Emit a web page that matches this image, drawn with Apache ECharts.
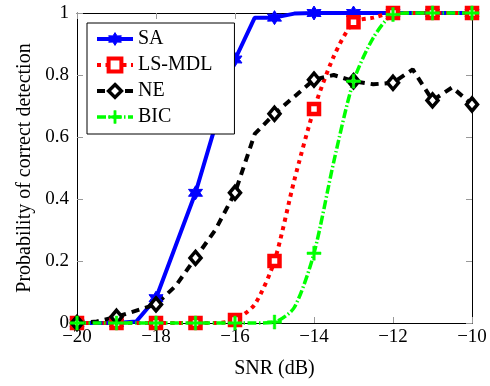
<!DOCTYPE html>
<html>
<head>
<meta charset="utf-8">
<script src="https://cdn.jsdelivr.net/npm/echarts@6/dist/echarts.min.js"></script>
<style>html,body{margin:0;padding:0;background:#fff}#c{width:490px;height:386px}</style>
</head>
<body>
<div id="c"></div>
<script>
const snr = [-20, -19.5, -19, -18.5, -18, -17.5, -17, -16.5, -16, -15.5, -15, -14.5, -14, -13.5, -13, -12.5, -12, -11.5, -11, -10.5, -10];
const markerSnr = [-20, -19, -18, -17, -16, -15, -14, -13, -12, -11, -10];
const saVals    = [0, 0, 0, 0.005, 0.08, 0.25, 0.42, 0.635, 0.85, 0.985, 0.985, 0.998, 1, 1, 1, 1, 1, 1, 1, 1, 1];
const lsmdlVals = [0, 0, 0, 0, 0, 0, 0, 0, 0.01, 0.06, 0.2, 0.46, 0.69, 0.86, 0.97, 0.985, 1, 1, 1, 1, 1];
const neVals    = [0, 0.005, 0.02, 0.04, 0.06, 0.12, 0.21, 0.3, 0.42, 0.61, 0.675, 0.73, 0.785, 0.8, 0.78, 0.77, 0.775, 0.818, 0.718, 0.76, 0.705];
const bicVals   = [0, 0, 0, 0, 0, 0, 0, 0, 0, 0, 0.003, 0.05, 0.225, 0.52, 0.78, 0.92, 0.995, 1, 1, 1, 1];
const seriesNames = ['SA', 'LS-MDL', 'NE', 'BIC'];
const xTicks = [-20, -18, -16, -14, -12, -10];
const yTicks = [0, 0.2, 0.4, 0.6, 0.8, 1];

const FONT = "'Liberation Serif', 'Times New Roman', serif";

function star6() {
  let d = '';
  for (let i = 0; i < 12; i++) {
    const a = Math.PI / 2 + i * Math.PI / 6;
    const r = (i % 2 === 0) ? 1 : 0.55;
    const x = (r * Math.cos(a)).toFixed(3), y = (-r * Math.sin(a)).toFixed(3);
    d += (i === 0 ? 'M' : 'L') + x + ',' + y;
  }
  return 'path://' + d + 'Z';
}
const plusPath = 'path://M-0.18,-1L0.18,-1L0.18,-0.18L1,-0.18L1,0.18L0.18,0.18L0.18,1L-0.18,1L-0.18,0.18L-1,0.18L-1,-0.18L-0.18,-0.18Z';

function makeData(vals) {
  return snr.map((x, i) => {
    const item = { value: [x, vals[i]] };
    if (markerSnr.indexOf(x) < 0) item.symbol = 'none';
    return item;
  });
}

const chart = echarts.init(document.getElementById('c'), null, { renderer: 'canvas' });
const axisCommon = {
  axisLine: { show: true, onZero: false, lineStyle: { color: '#000', width: 1 } },
  axisTick: { show: true, inside: true, length: 6, lineStyle: { color: '#999', width: 1 } },
  splitLine: { show: false }
};
chart.setOption({
  animation: false,
  backgroundColor: '#fff',
  grid: { left: 77, right: 18, top: 13, bottom: 63, containLabel: false },
  legend: {
    orient: 'vertical', left: 87, top: 23,
    data: [
      { name: 'SA', lineStyle: { width: 4 }, itemStyle: { borderWidth: 1 } },
      { name: 'LS-MDL', lineStyle: { width: 4 }, itemStyle: { borderWidth: 4 } },
      { name: 'NE', lineStyle: { width: 4 }, itemStyle: { borderWidth: 3.5 } },
      { name: 'BIC', lineStyle: { width: 3.5 }, itemStyle: { borderWidth: 0.5 } }
    ],
    itemWidth: 36, itemHeight: 16, itemGap: 6,
    padding: [6, 22, 7, 8],
    backgroundColor: '#fff', borderColor: '#000', borderWidth: 1,
    textStyle: { fontFamily: FONT, fontSize: 20, color: '#000', lineHeight: 20 }
  },
  xAxis: [
    Object.assign({}, axisCommon, {
      type: 'value', min: -20, max: -10, interval: 2, position: 'bottom',
      name: 'SNR (dB)', nameLocation: 'middle', nameGap: 36,
      nameTextStyle: { fontFamily: FONT, fontSize: 20, color: '#000' },
      axisLabel: { margin: 5, fontFamily: FONT, fontSize: 19, color: '#000',
        formatter: v => (xTicks.indexOf(v) >= 0 ? String(v).replace('-', '\u2212') : '') }
    }),
    Object.assign({}, axisCommon, {
      type: 'value', min: -20, max: -10, interval: 2, position: 'top',
      axisLabel: { show: false }
    })
  ],
  yAxis: [
    Object.assign({}, axisCommon, {
      type: 'value', min: 0, max: 1, interval: 0.2, position: 'left',
      name: 'Probability of correct detection', nameLocation: 'middle', nameGap: 42,
      nameTextStyle: { fontFamily: FONT, fontSize: 20, color: '#000' },
      axisLabel: { margin: 8, fontFamily: FONT, fontSize: 19, color: '#000',
        formatter: v => { const t = yTicks.find(k => Math.abs(k - v) < 1e-9); return t === undefined ? '' : String(t); } }
    }),
    Object.assign({}, axisCommon, {
      type: 'value', min: 0, max: 1, interval: 0.2, position: 'right',
      axisLabel: { show: false }
    })
  ],
  series: [
    {
      name: 'SA', type: 'line', data: makeData(saVals), clip: false,
      symbol: star6(), symbolSize: 14, showAllSymbol: true,
      lineStyle: { color: '#0000ff', width: 4, type: 'solid' },
      itemStyle: { color: '#0000ff', borderColor: '#0000ff', borderWidth: 1 }
    },
    {
      name: 'LS-MDL', type: 'line', data: makeData(lsmdlVals), clip: false, smooth: 0.25,
      symbol: 'rect', symbolSize: 10, showAllSymbol: true,
      lineStyle: { color: '#ff0000', width: 4, type: [4, 4.5] },
      itemStyle: { color: '#fff', borderColor: '#ff0000', borderWidth: 4.5 }
    },
    {
      name: 'NE', type: 'line', data: makeData(neVals), clip: false,
      symbol: 'diamond', symbolSize: [11, 13], showAllSymbol: true,
      lineStyle: { color: '#000', width: 4, type: [8, 6] },
      itemStyle: { color: '#fff', borderColor: '#000', borderWidth: 3.5 }
    },
    {
      name: 'BIC', type: 'line', data: makeData(bicVals), clip: false, smooth: 0.25,
      symbol: plusPath, symbolSize: 14, showAllSymbol: true,
      lineStyle: { color: '#00ff00', width: 3.5, type: [9, 2.5, 1.5, 2.5] },
      itemStyle: { color: '#00ff00', borderColor: '#00ff00', borderWidth: 0.5 }
    }
  ]
});
</script>
</body>
</html>
